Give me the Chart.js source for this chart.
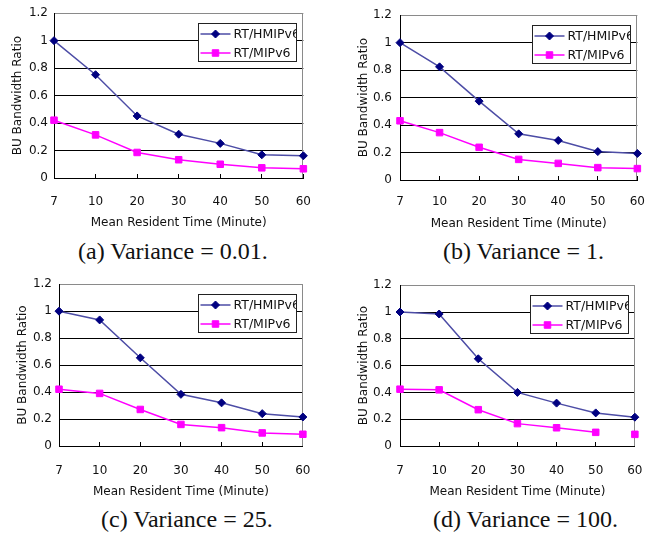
<!DOCTYPE html>
<html><head><meta charset="utf-8">
<script src="https://cdn.jsdelivr.net/npm/chart.js@4/dist/chart.umd.min.js"></script>
<style>
html,body{margin:0;padding:0;background:#fff;}
#page{position:relative;width:664px;height:534px;overflow:hidden;background:#fff;}
canvas{position:absolute;}
.cap{position:absolute;font-family:"Liberation Serif","Times New Roman",serif;font-size:24px;line-height:26px;color:#111;white-space:nowrap;}
</style></head><body>
<div id="page"></div>
<script>
// ---- data ----
const categories = ['7','10','20','30','40','50','60'];
const seriesNames = ['RT/HMIPv6','RT/MIPv6'];
const hmipA = [1.0,0.752,0.452,0.319,0.252,0.169,0.162];
const mipA  = [0.421,0.314,0.186,0.133,0.100,0.074,0.067];
const hmipB = [1.0,0.824,0.574,0.336,0.288,0.207,0.193];
const mipB  = [0.431,0.345,0.238,0.150,0.121,0.090,0.083];
const hmipC = [1.0,0.935,0.654,0.383,0.320,0.240,0.215];
const mipC  = [0.421,0.390,0.271,0.160,0.136,0.097,0.087];
const hmipD = [1.0,0.985,0.651,0.400,0.320,0.247,0.215];
const mipD  = [0.424,0.419,0.271,0.167,0.136,0.102,0.087];
const yTickLabels = ['0','0.2','0.4','0.6','0.8','1','1.2'];
const yTitle = 'BU Bandwidth Ratio';
const xTitle = 'Mean Resident Time (Minute)';
const captions = ['(a) Variance = 0.01.','(b) Variance = 1.','(c) Variance = 25.','(d) Variance = 100.'];

// ---- layout (positions/styles) ----
const W = 332, H = 234;
const panels = [
  {x:0,   y:0,   hmip:hmipA, mip:mipA, gap:-1, left:54, top:10, right:21, xh:56, ytp:10.8, ylp:6, xtp:21, xtb:4},
  {x:332, y:0,   hmip:hmipB, mip:mipB, gap:-1, left:68, top:13, right:7,  xh:54, ytp:24.8, ylp:8, xtp:19, xtb:3},
  {x:0,   y:270, hmip:hmipC, mip:mipC, gap:-1, left:59, top:11, right:19, xh:58, ytp:15.8, ylp:7, xtp:21.5, xtb:5},
  {x:332, y:270, hmip:hmipD, mip:mipD, gap:5,  left:68, top:11, right:9,  xh:58, ytp:24.8, ylp:8, xtp:21.5, xtb:5}
];
const capPos = [{l:78,t:238},{l:443,t:238},{l:101,t:506},{l:433,t:506}];

Chart.defaults.font.family = '"DejaVu Sans", sans-serif';
Chart.defaults.font.size = 12;
Chart.defaults.color = '#111';

const framePlugin = {
  id:'frame',
  beforeDatasetsDraw(chart){
    const {ctx, chartArea:a} = chart;
    ctx.save(); ctx.strokeStyle='#8a8a8a'; ctx.lineWidth=1;
    const x = Math.round(a.right)-0.5;
    ctx.beginPath(); ctx.moveTo(x,a.top); ctx.lineTo(x,a.bottom); ctx.stroke();
    ctx.restore();
  }
};

function drawMarker(ctx, style, r, x, y){
  if (Chart.helpers && Chart.helpers.drawPoint) {
    Chart.helpers.drawPoint(ctx, {pointStyle:style, radius:r, borderWidth:1, rotation:0}, x, y);
    return;
  }
  ctx.beginPath();
  if (style === 'rectRot') { ctx.moveTo(x-r,y); ctx.lineTo(x,y-r); ctx.lineTo(x+r,y); ctx.lineTo(x,y+r); ctx.closePath(); }
  else { const s = Math.SQRT1_2*r; ctx.rect(x-s,y-s,2*s,2*s); }
  ctx.fill(); ctx.stroke();
}

const boxLegend = {
  id:'boxLegend',
  afterDraw(chart){
    const {ctx, chartArea:a} = chart;
    const w = 98, h = 38;
    const x0 = Math.round(a.right-7-w)+0.5, y0 = Math.round(a.top+10)+0.5;
    ctx.save();
    ctx.fillStyle='#fff'; ctx.fillRect(x0,y0,w,h);
    ctx.strokeStyle='#222'; ctx.lineWidth=1; ctx.strokeRect(x0,y0,w,h);
    ctx.beginPath(); ctx.rect(x0,y0,w-0.5,h); ctx.clip();
    chart.data.datasets.forEach((ds,i)=>{
      const y = y0 + 10.5 + i*19;
      ctx.strokeStyle = ds.borderColor; ctx.lineWidth = ds.borderWidth;
      ctx.beginPath(); ctx.moveTo(x0+2,y); ctx.lineTo(x0+32,y); ctx.stroke();
      ctx.fillStyle = ds.pointBackgroundColor; ctx.strokeStyle = ds.pointBorderColor; ctx.lineWidth = 1;
      drawMarker(ctx, ds.pointStyle, ds.pointRadius, x0+17, y);
      ctx.fillStyle='#111'; ctx.font='12.5px "DejaVu Sans"'; ctx.textBaseline='middle'; ctx.textAlign='left';
      ctx.fillText(ds.label, x0+35, y+0.5);
    });
    ctx.restore();
  }
};

const page = document.getElementById('page');
panels.forEach((p, idx) => {
  const cv = document.createElement('canvas');
  cv.width = W; cv.height = H;
  cv.style.left = p.x+'px'; cv.style.top = p.y+'px';
  cv.style.width = W+'px'; cv.style.height = H+'px';
  page.appendChild(cv);
  const gap = p.gap;
  new Chart(cv.getContext('2d'), {
    type:'line',
    data:{
      labels: categories,
      datasets:[
        {label: seriesNames[0], data: p.hmip, borderColor:'#4d4da6', borderWidth:1.5,
         pointStyle:'rectRot', pointRadius:4, pointBackgroundColor:'#000080', pointBorderColor:'#000080',
         pointBorderWidth:1, tension:0, fill:false},
        {label: seriesNames[1], data: p.mip, borderColor:'#ff00ff', borderWidth:1.5,
         pointStyle:'rect', pointRadius:4.6, pointBackgroundColor:'#ff00ff', pointBorderColor:'#ff00ff',
         pointBorderWidth:1, tension:0, fill:false,
         segment:{ borderColor: c => c.p0DataIndex === gap ? 'rgba(0,0,0,0)' : undefined }}
      ]
    },
    options:{
      responsive:false, animation:false, devicePixelRatio:1,
      layout:{padding:{left:0, top:p.top, right:p.right, bottom:0}},
      plugins:{legend:{display:false}, tooltip:{enabled:false}},
      scales:{
        x:{
          type:'category', offset:false,
          grid:{display:true, drawOnChartArea:false, drawTicks:true, tickLength:-4, color:'#000', lineWidth:1},
          border:{display:true, color:'#000', width:1},
          ticks:{autoSkip:false, maxRotation:0, minRotation:0, padding:p.xtp, color:'#111', font:{size:12}},
          title:{display:true, text:xTitle, color:'#111', font:{size:12}, padding:{top:0, bottom:p.xtb}},
          afterFit(s){ s.height = p.xh; }
        },
        y:{
          min:0, max:1.2,
          grid:{drawTicks:false, color: c => (c.tick && c.tick.value > 1.19) ? '#8a8a8a' : '#000', lineWidth:1},
          border:{display:true, color:'#000', width:1},
          ticks:{stepSize:0.2, padding:p.ylp, color:'#111', font:{size:12},
                 callback:(v,i)=> yTickLabels[i] !== undefined ? yTickLabels[i] : v},
          title:{display:true, text:yTitle, color:'#111', font:{size:12}, padding:{top:p.ytp, bottom:0}},
          afterFit(s){ s.width = p.left; }
        }
      }
    },
    plugins:[framePlugin, boxLegend]
  });
  const cap = document.createElement('div');
  cap.className = 'cap';
  cap.textContent = captions[idx];
  cap.style.left = capPos[idx].l+'px'; cap.style.top = capPos[idx].t+'px';
  page.appendChild(cap);
});
</script>
</body></html>
